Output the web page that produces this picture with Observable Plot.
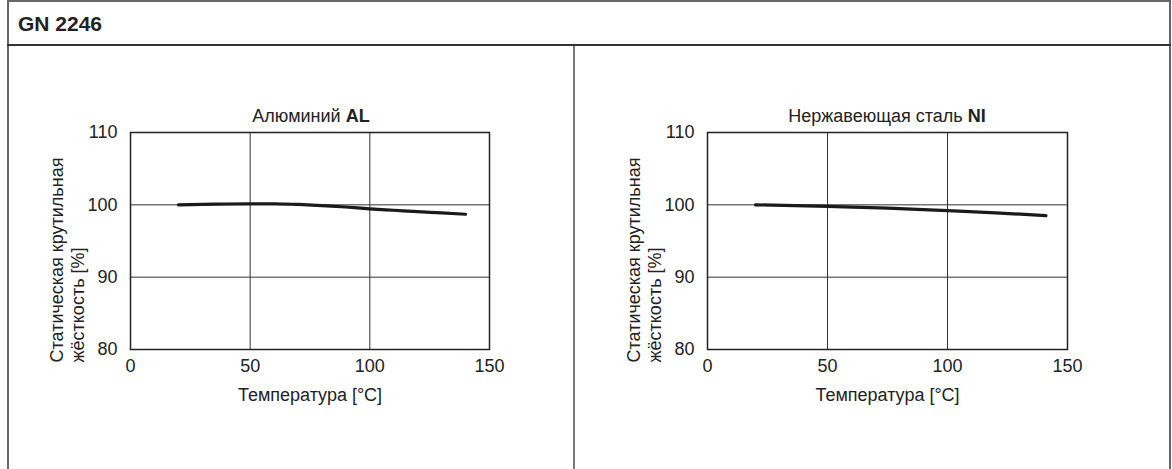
<!DOCTYPE html>
<html>
<head>
<meta charset="utf-8">
<script src="https://cdn.jsdelivr.net/npm/d3@7"></script>
<script src="https://cdn.jsdelivr.net/npm/@observablehq/plot@0.6"></script>
<style>
  html, body { margin: 0; padding: 0; background: #fff; }
  body { width: 1172px; height: 469px; position: relative; overflow: hidden; font-family: "Liberation Sans", Arial, sans-serif; color: #222; }
  .box { position: absolute; left: 7px; top: 0px; width: 1164px; height: 480px; border: 2px solid #666; box-sizing: border-box; }
  .hdr { position: absolute; left: 7px; top: 44px; width: 1164px; height: 2px; background: #333; }
  .div { position: absolute; left: 573px; top: 46px; width: 2px; height: 430px; background: #777; }
  .title { position: absolute; left: 18px; top: 12px; font-weight: bold; font-size: 21px; color: #222; line-height: normal; }
  .ptitle { position: absolute; width: 400px; text-align: center; font-size: 18px; color: #222; line-height: normal; }
  .plot { position: absolute; }
</style>
</head>
<body>
<div class="box"></div>
<div class="hdr"></div>
<div class="div"></div>
<div class="title">GN 2246</div>
<div class="ptitle" id="t1" style="left:111px; top:106px;">Алюминий <b>AL</b></div>
<div class="ptitle" id="t2" style="left:687px; top:106px;">Нержавеющая сталь <b>NI</b></div>
<div class="plot" id="p1" style="left:8px; top:90px;"></div>
<div class="plot" id="p2" style="left:574px; top:90px;"></div>
<script>
const xTicks = [0, 50, 100, 150];
const yTicks = [80, 90, 100, 110];
const xLabel = "Температура [°C]";
const yLabel = "Статическая крутильная\nжёсткость [%]";

const alTemp = [20, 35, 50, 60, 70, 80, 90, 100, 110, 120, 130, 140];
const alStiff = [100.0, 100.1, 100.15, 100.15, 100.05, 99.9, 99.7, 99.45, 99.25, 99.05, 98.9, 98.7];

const niTemp = [20, 50, 75, 100, 120, 141];
const niStiff = [100.0, 99.8, 99.55, 99.2, 98.9, 98.5];

function makePlot(temps, vals, width, marginLeft, marginRight) {
  const data = temps.map((t, i) => ({t, v: vals[i]}));
  return Plot.plot({
    width, height: 330,
    marginLeft, marginRight, marginTop: 42, marginBottom: 71,
    style: {fontFamily: "'Liberation Sans', Arial, sans-serif", fontSize: "18px", color: "#222", background: "transparent", overflow: "visible"},
    x: {domain: [0, 150], ticks: xTicks, tickSize: 0, tickPadding: 10, label: null},
    y: {domain: [80, 110], ticks: yTicks, tickSize: 0, tickPadding: 13, label: null},
    marks: [
      Plot.gridX(xTicks, {stroke: "#333", strokeOpacity: 1, strokeWidth: 1}),
      Plot.gridY(yTicks, {stroke: "#333", strokeOpacity: 1, strokeWidth: 1}),
      Plot.frame({stroke: "#222", strokeWidth: 1.5}),
      Plot.line(data, {x: "t", y: "v", stroke: "#1a1a1a", strokeWidth: 3.2, curve: "monotone-x"}),
      Plot.axisX(xTicks, {tickSize: 0, tickPadding: 10, fontSize: 18, fill: "#222", label: null}),
      Plot.axisY(yTicks, {tickSize: 0, tickPadding: 13, fontSize: 18, fill: "#222", label: null}),
      Plot.text([xLabel], {frameAnchor: "bottom", lineAnchor: "middle", dy: 46, text: d => d, fontSize: 18, fill: "#222"}),
      Plot.text([yLabel], {frameAnchor: "bottom-left", textAnchor: "start", lineAnchor: "middle", rotate: -90, dx: -64, dy: 13, text: d => d, fontSize: 18, lineHeight: 1.17, fill: "#222"})
    ]
  });
}

document.getElementById("p1").append(makePlot(alTemp, alStiff, 565, 122, 84));
document.getElementById("p2").append(makePlot(niTemp, niStiff, 596, 133, 103));
</script>
</body>
</html>
